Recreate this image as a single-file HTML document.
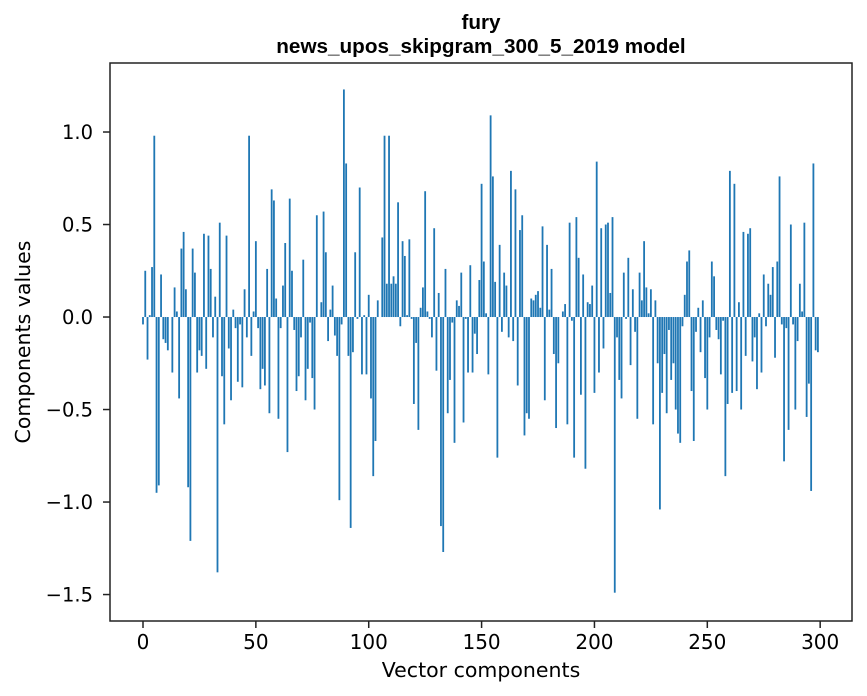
<!DOCTYPE html>
<html><head><meta charset="utf-8"><style>
body{margin:0;background:#fff;}
svg{display:block;font-family:"DejaVu Sans","Liberation Sans",sans-serif;}
.ttl{font-family:"Liberation Sans",sans-serif;font-weight:bold;font-size:20.7px;}
</style></head><body>
<svg id="chart" width="867" height="696" viewBox="0 0 867 696">
<text class="ttl" x="481" y="29" text-anchor="middle">fury</text>
<text class="ttl" x="481" y="53" text-anchor="middle">news_upos_skipgram_300_5_2019 model</text>
<g id="bars"></g>
<g id="axes"></g>
<text x="481" y="677" text-anchor="middle" font-size="20.5">Vector components</text>
<text transform="translate(30,342) rotate(-90)" text-anchor="middle" font-size="20.5">Components values</text>
</svg>
<script>
const values = [
-0.04,0.25,-0.23,0.01,0.27,0.98,-0.95,-0.91,0.23,-0.12,
-0.14,-0.18,0.0,-0.30,0.16,0.03,-0.44,0.37,0.46,0.15,
-0.92,-1.21,0.37,0.24,-0.30,-0.18,-0.21,0.45,-0.28,0.44,
0.26,-0.11,0.11,-1.38,0.51,-0.32,-0.58,0.44,-0.17,-0.45,
0.04,-0.06,-0.35,-0.04,-0.38,0.15,-0.11,0.98,-0.21,0.03,
0.41,-0.06,-0.39,-0.28,-0.37,0.26,-0.52,0.69,0.63,0.10,
-0.55,-0.06,0.17,0.40,-0.73,0.64,0.25,-0.07,-0.40,-0.32,
-0.11,0.31,-0.45,-0.28,-0.03,-0.33,-0.50,0.55,0.0,0.08,
0.57,0.35,-0.13,0.04,0.17,-0.10,-0.21,-0.99,-0.04,1.23,
0.83,-0.21,-1.14,-0.19,0.35,-0.01,0.70,-0.31,0.01,-0.31,
0.12,-0.44,-0.86,-0.67,0.09,0.0,0.43,0.98,0.18,0.98,
0.18,0.22,0.18,0.62,-0.05,0.41,0.33,0.01,0.42,-0.01,
-0.47,-0.14,-0.61,0.05,0.16,0.68,0.03,-0.01,-0.11,0.48,
-0.29,0.13,-1.13,-1.27,0.26,-0.52,-0.34,-0.03,-0.68,0.09,
0.06,0.24,-0.57,-0.01,-0.30,0.28,-0.30,-0.09,-0.20,0.20,
0.72,0.30,0.02,-0.31,1.09,0.76,0.19,-0.76,0.39,-0.08,
0.24,0.17,-0.11,0.79,-0.13,0.69,-0.37,0.47,0.55,-0.64,
-0.52,-0.55,0.10,0.09,0.12,0.14,0.05,0.49,-0.45,0.39,
0.04,0.26,-0.20,-0.60,-0.25,0.0,0.03,0.07,-0.58,0.51,
-0.02,-0.76,0.54,0.32,-0.42,0.23,-0.82,0.08,0.07,0.17,
-0.41,0.84,-0.30,0.48,-0.17,0.50,0.51,0.13,0.54,-1.49,
-0.11,-0.34,-0.44,0.24,-0.01,0.32,-0.26,0.15,-0.08,-0.55,
0.24,0.09,0.41,0.16,0.02,0.15,-0.58,0.09,-0.25,-1.04,
-0.41,-0.20,-0.52,-0.07,-0.34,-0.25,-0.50,-0.63,-0.68,-0.05,
0.12,0.30,0.36,-0.40,-0.67,-0.08,0.05,-0.19,0.09,-0.33,
-0.50,-0.11,0.30,0.22,-0.07,-0.12,-0.31,-0.02,-0.86,-0.47,
0.79,-0.41,0.72,-0.40,0.08,-0.50,0.46,-0.21,0.45,0.48,
-0.24,-0.11,-0.39,0.02,-0.30,0.23,-0.05,0.18,0.12,0.27,
-0.22,0.30,0.76,-0.04,-0.78,-0.06,-0.61,0.50,-0.04,-0.50,
-0.13,0.18,0.03,0.51,-0.54,-0.36,-0.94,0.83,-0.18,-0.19
];
const xTicks = [0,50,100,150,200,250,300];
const yTicks = [-1.5,-1.0,-0.5,0.0,0.5,1.0];
const yTickLabels = ["\u22121.5","\u22121.0","\u22120.5","0.0","0.5","1.0"];

const L=110,R=852,T=63,B=621;
const xMin=-14.62,xMax=314.1,yMin=-1.643,yMax=1.373;
const sx=v=>L+(v-xMin)/(xMax-xMin)*(R-L);
const sy=v=>B-(v-yMin)/(yMax-yMin)*(B-T);
const NS="http://www.w3.org/2000/svg";
const bars=document.getElementById('bars');
const bw=sx(0.8)-sx(0);
values.forEach((v,i)=>{
  const r=document.createElementNS(NS,'rect');
  const y0=sy(0),y1=sy(v);
  r.setAttribute('x',sx(i)-bw/2);
  r.setAttribute('y',Math.min(y0,y1));
  r.setAttribute('width',bw);
  r.setAttribute('height',Math.max(Math.abs(y1-y0),0.01));
  r.setAttribute('fill','#1f77b4');
  
  
  bars.appendChild(r);
});
const axes=document.getElementById('axes');
const frame=document.createElementNS(NS,'rect');
frame.setAttribute('x',L);frame.setAttribute('y',T);
frame.setAttribute('width',R-L);frame.setAttribute('height',B-T);
frame.setAttribute('fill','none');frame.setAttribute('stroke','#222');frame.setAttribute('stroke-width','1.5');


axes.appendChild(frame);
xTicks.forEach(t=>{
  const x=sx(t);
  const l=document.createElementNS(NS,'line');
  l.setAttribute('x1',x);l.setAttribute('x2',x);l.setAttribute('y1',B);l.setAttribute('y2',B+7);
  l.setAttribute('stroke','#222');l.setAttribute('stroke-width','1.5');
  
  
  axes.appendChild(l);
  const tx=document.createElementNS(NS,'text');
  tx.setAttribute('x',x);tx.setAttribute('y',B+28);tx.setAttribute('text-anchor','middle');tx.setAttribute('font-size','20');
  tx.textContent=t;
  
  
  axes.appendChild(tx);
});
yTicks.forEach((t,i)=>{
  const y=sy(t);
  const l=document.createElementNS(NS,'line');
  l.setAttribute('x1',L-7);l.setAttribute('x2',L);l.setAttribute('y1',y);l.setAttribute('y2',y);
  l.setAttribute('stroke','#222');l.setAttribute('stroke-width','1.5');
  
  
  axes.appendChild(l);
  const tx=document.createElementNS(NS,'text');
  tx.setAttribute('x',L-17);tx.setAttribute('y',y+7);tx.setAttribute('text-anchor','end');tx.setAttribute('font-size','19.5');
  tx.textContent=yTickLabels[i];
  
  
  axes.appendChild(tx);
});
</script>
</body></html>
